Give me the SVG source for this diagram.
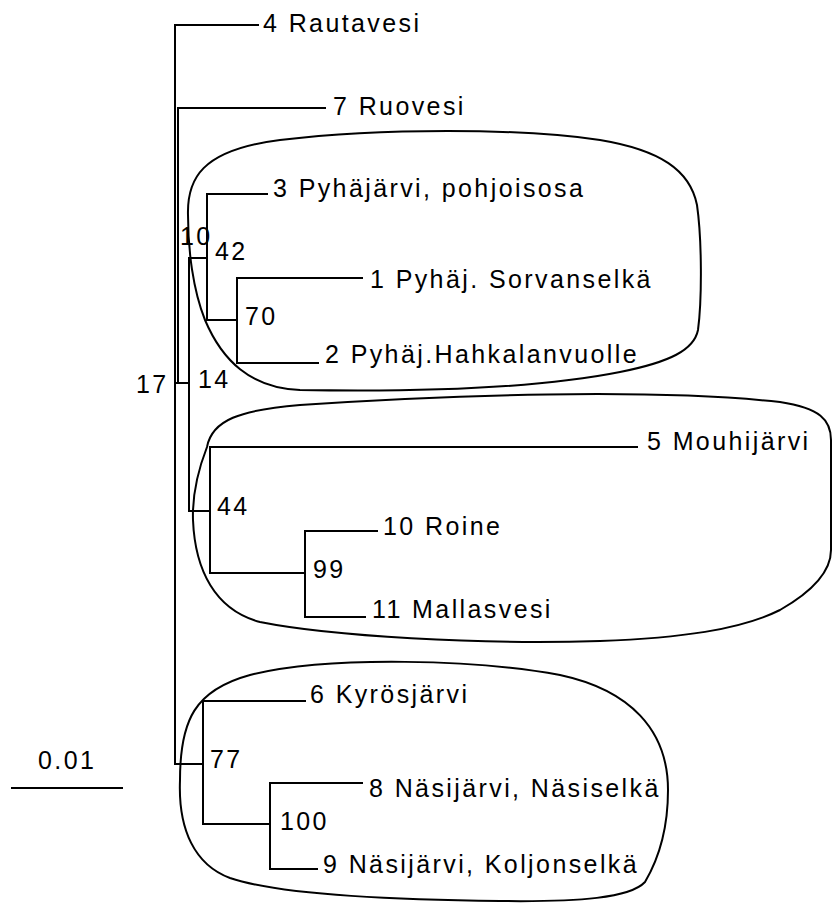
<svg xmlns="http://www.w3.org/2000/svg" width="833" height="904" viewBox="0 0 833 904">
<style>
text{font-family:"Liberation Sans",Arial,sans-serif;font-size:25px;letter-spacing:2.4px;fill:#000}
.br{stroke:#000;stroke-width:2;fill:none;stroke-linecap:square}
.blob{stroke:#000;stroke-width:2;fill:none}
</style>
<rect width="833" height="904" fill="#fff"/>
<g id="clusters">
<path id="cluster-pyhajarvi" class="blob" d="M188,215 C187,180 200,150 280,140 C380,128 520,128 600,140 C660,150 690,170 697,205 C702,240 702,300 698,330 C694,350 670,362 620,372 C540,388 420,392 300,390 C250,388 222,360 205,320 C193,290 188,250 188,215 Z"/>
<path id="cluster-mouhijarvi" class="blob" d="M207,447 C212,420 240,410 300,405 C450,395 650,388 780,402 C820,408 831,420 831,440 L831,550 C831,570 815,590 780,610 C740,630 680,638 600,641 C480,645 330,636 260,622 C215,610 195,570 193,520 C192,490 200,465 207,447 Z"/>
<path id="cluster-nasijarvi" class="blob" d="M180,780 C180,720 195,690 250,675 C330,655 480,660 560,675 C630,690 668,730 668,790 C668,830 658,860 645,882 C630,898 580,902 500,901 C400,900 280,895 230,878 C195,865 178,830 180,780 Z"/>
</g>
<g id="connectors">
<path class="br" d="M175,25 V764"/>
<path class="br" d="M175,25 H258"/>
<path class="br" d="M178,108 V383"/>
<path class="br" d="M178,108 H325"/>
<path class="br" d="M175,383 H189"/>
<path class="br" d="M189,258 V511"/>
<path class="br" d="M189,258 H207 M207,194 V320 M207,194 H267"/>
<path class="br" d="M207,320 H237 M237,278 V363 M237,278 H362 M237,363 H318"/>
<path class="br" d="M189,511 H210 M210,447 V573 M210,447 H637"/>
<path class="br" d="M210,573 H305 M305,531 V617 M305,531 H377 M305,617 H365"/>
<path class="br" d="M175,764 H203 M203,701 V824 M203,701 H305"/>
<path class="br" d="M203,824 H270 M270,783 V869 M270,783 H362 M270,869 H317"/>
</g>
<g id="support">
<text x="180" y="245">10</text>
<text x="215" y="260">42</text>
<text x="245" y="325">70</text>
<text x="198" y="388">14</text>
<text x="136" y="393">17</text>
<text x="217" y="515">44</text>
<text x="313" y="578">99</text>
<text x="210" y="768">77</text>
<text x="280" y="830">100</text>
</g>
<g id="leaf4"><text x="263" y="32">4 Rautavesi</text></g>
<g id="leaf7"><text x="333" y="115">7 Ruovesi</text></g>
<g id="leaf3"><text x="273" y="197">3 Pyhäjärvi, pohjoisosa</text></g>
<g id="leaf1"><text x="370" y="288">1 Pyhäj. Sorvanselkä</text></g>
<g id="leaf2"><text x="325" y="363">2 Pyhäj.Hahkalanvuolle</text></g>
<g id="leaf5"><text x="647" y="450">5 Mouhijärvi</text></g>
<g id="leaf10"><text x="383" y="535">10 Roine</text></g>
<g id="leaf11"><text x="372" y="618">11 Mallasvesi</text></g>
<g id="leaf6"><text x="310" y="703">6 Kyrösjärvi</text></g>
<g id="leaf8"><text x="369" y="797">8 Näsijärvi, Näsiselkä</text></g>
<g id="leaf9"><text x="323" y="873">9 Näsijärvi, Koljonselkä</text></g>
<g id="scale">
<text x="38" y="769">0.01</text>
<path class="br" d="M12,788 H122"/>
</g>
</svg>
